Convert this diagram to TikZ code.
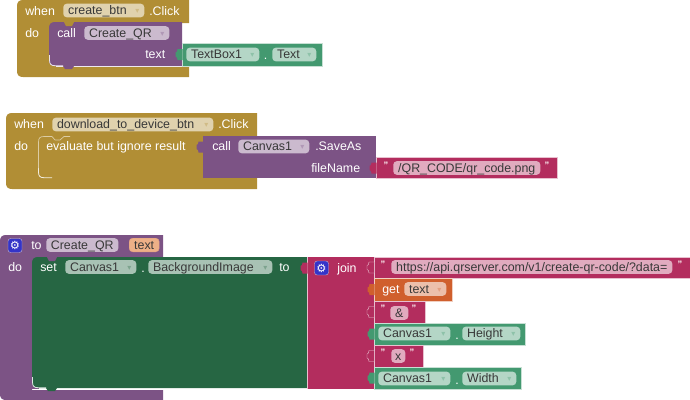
\documentclass[tikz,border=0pt]{standalone}
\usepackage{fontspec}
\setmainfont{Liberation Sans}
\newfontfamily\symfont{DejaVu Sans}
\definecolor{goldblock}{HTML}{B18E35}
\definecolor{goldfield}{HTML}{E0D2AE}
\definecolor{purpleblock}{HTML}{7C5385}
\definecolor{purplefield}{HTML}{CBBACE}
\definecolor{greenblock}{HTML}{439970}
\definecolor{greenfield}{HTML}{B4D6C6}
\definecolor{setblock}{HTML}{266643}
\definecolor{setfield}{HTML}{A8C2B4}
\definecolor{pinkblock}{HTML}{B32D5E}
\definecolor{pinkfield}{HTML}{E1ABBF}
\definecolor{orangeblock}{HTML}{D05F2D}
\definecolor{orangefield}{HTML}{ECBFAB}
\definecolor{textorange}{HTML}{EDB087}
\definecolor{gearblue}{HTML}{3434C8}
\tikzset{
  blocklabel/.style={inner sep=0pt, anchor=west, text=white, font=\fontsize{9.3pt}{11pt}\selectfont,
    text height=7.6pt, text depth=1pt},
  fieldnode/.style={rectangle, rounded corners=2.6pt, inner xsep=3.6pt, inner ysep=0pt, anchor=west,
    text=black!78, font=\fontsize{9.3pt}{11pt}\selectfont, text height=7.6pt, text depth=1pt,
    minimum height=10.2pt},
  quotemark/.style={inner sep=0pt, text=white!90!pink, font=\fontsize{7pt}{7pt}\selectfont\bfseries},
  gearbox/.style={rectangle, rounded corners=2pt, fill=gearblue, draw=purplefield, line width=.3pt,
    minimum size=10.5pt, inner sep=0pt, text=white, font=\symfont\fontsize{8.5pt}{8.5pt}\selectfont}
}
% field without a drop arrow
\newcommand{\plainfield}[6]{
  \node (#1) [fieldnode, fill=#2, minimum width={(#4-#3)*0.75pt}, text width={(#4-#3)*0.75pt-7.2pt}]
    at (#3,#5) {\makebox[\linewidth]{#6}};
}
% field with a drop arrow at its right end
\newcommand{\dropfield}[7]{
  \node (#1) [fieldnode, fill=#2, minimum width={(#4-#3)*0.75pt}, text width={(#4-#3)*0.75pt-7.2pt}]
    at (#3,#5) {\makebox[\linewidth]{#6\hfill\raisebox{.8pt}{\symfont\fontsize{6pt}{6pt}\selectfont\textcolor{#7!60}{▾}}}};
}
% hat block: top band, left arm and lower band
\newcommand{\hatblock}[8]{
  \fill[#1] (#3,#4) -- (#2+6,#4) .. controls (#2+2,#4) and (#2,#4+2) .. (#2,#4+6)
    -- (#2,#8-6) .. controls (#2,#8-2) and (#2+2,#8) .. (#2+6,#8)
    -- (#3,#8) -- (#3,#7) -- (#6,#7) -- (#6,#5) -- (#3,#5) -- cycle;
}
% statement block with round left corners, a notch on top and a nub below
\newcommand{\stackblock}[6]{
  \fill[#6] (#2-1,#4) rectangle (#2+7,#4+7);
  \fill[#6] (#2-1,#5-7) rectangle (#2+7,#5+1);
  \fill[#1] (#3,#4) -- (#2+6,#4) .. controls (#2+2,#4) and (#2,#4+2) .. (#2,#4+6)
    -- (#2,#5-6) .. controls (#2,#5-2) and (#2+2,#5) .. (#2+6,#5) -- (#3,#5) -- cycle;
  \fill[#1] (#2+14,#5) -- (#2+16,#5+3) -- (#2+23,#5+3) -- (#2+25,#5) -- cycle;
  \fill[#6] (#2+15,#4) -- (#2+17,#4+4) -- (#2+23,#4+4) -- (#2+25,#4) -- cycle;
  \draw[white!85!#1, line width=.6pt] (#2+.5,#5-11) -- (#2+.5,#5-6)
    .. controls (#2+.5,#5-2) and (#2+2,#5-.3) .. (#2+6,#5-.3) -- (#2+14,#5-.3);
}
% puzzle tab on the left edge of a value block
\newcommand{\puzzletab}[3]{
  \path[#1] (#2,#3-5.5) -- (#2-5,#3-5.5) -- (#2-5.5,#3-3) -- (#2-7,#3-2)
    -- (#2-7,#3+2) -- (#2-5.5,#3+3) -- (#2-5,#3+5.5) -- (#2,#3+5.5);
}
\begin{document}
\begin{tikzpicture}[x=0.75pt,y=-0.75pt]
  \useasboundingbox (0,0) rectangle (690,400);
  % create button handler
  \hatblock{goldblock}{17}{189}{0}{23}{49}{67}{77}
  \stackblock{purpleblock}{49}{182}{22}{66}{goldblock}
  \fill[greenblock, draw=white!70!greenblock, line width=.4pt] (182,43) rectangle (322,66);
  \puzzletab{fill=greenblock}{182.5}{54.5}
  \node (whenA) [blocklabel] at (25,11) {when};
  \dropfield{createBtn}{goldfield}{63}{144}{10.5}{create\_btn}{goldblock}
  \node (clickA) [blocklabel] at (149,11) {.Click};
  \node (doA) [blocklabel] at (25,33) {do};
  \node (callA) [blocklabel] at (57,33) {call};
  \dropfield{callQR}{purplefield}{84}{169}{33}{Create\_QR}{purpleblock}
  \node (textA) [blocklabel] at (145,54) {text};
  \dropfield{textBox}{greenfield}{186}{259}{54.5}{TextBox1}{greenblock}
  \node (dotA) [blocklabel] at (263.5,55) {.};
  \dropfield{textProp}{greenfield}{272}{316}{54.5}{Text}{greenblock}

  % download button handler
  \hatblock{goldblock}{6}{257}{113}{136}{38}{178}{189}
  \stackblock{goldblock}{38}{203}{136}{178}{goldblock}
  \draw[white!55!goldblock, line width=.5pt] (38.5,168) -- (38.5,142)
    .. controls (38.5,138) and (40,136.5) .. (44,136.5) -- (52,136.5)
    -- (55,140) -- (60,140) -- (64,136.5) -- (70,136.5);
  \fill[purpleblock] (203,136) rectangle (376,178);
  \puzzletab{fill=purpleblock}{203.5}{147}
  \fill[pinkblock, draw=white!70!pinkblock, line width=.4pt] (376,157) rectangle (557,178);
  \puzzletab{fill=pinkblock}{376.5}{168}
  \node (whenB) [blocklabel] at (14,124.5) {when};
  \dropfield{downloadBtn}{goldfield}{52}{213}{124.5}{download\_to\_device\_btn}{goldblock}
  \node (clickB) [blocklabel] at (218,124.5) {.Click};
  \node (doB) [blocklabel] at (14,146) {do};
  \node (evalB) [blocklabel] at (46,146) {evaluate but ignore result};
  \node (callB) [blocklabel] at (212,146) {call};
  \dropfield{canvasSave}{purplefield}{238}{309}{146.5}{Canvas1}{purpleblock}
  \node (saveAs) [blocklabel] at (315,146) {.SaveAs};
  \node (fileName) [blocklabel] at (311,168) {fileName};
  \node (openB) [quotemark] at (386,165) {”};
  \plainfield{pngPath}{pinkfield}{393}{540}{168}{/QR\_CODE/qr\_code.png}
  \node (closeB) [quotemark] at (547,165) {”};

  % procedure definition
  \hatblock{purpleblock}{0}{163}{235}{257}{32}{390}{400}
  \stackblock{setblock}{32}{307}{257}{388}{purpleblock}
  \fill[pinkblock] (307,257) -- (374,257) -- (374,389) -- (307,389) -- cycle;
  \draw[white!70!pinkblock, line width=.4pt] (307,257) -- (307,389);
  \puzzletab{fill=pinkblock}{307.5}{268}
  \node (gearTo) [gearbox] at (15,245.5) {⚙};
  \node (toC) [blocklabel] at (31,245.5) {to};
  \plainfield{procName}{purplefield}{46}{118}{245}{Create\_QR}
  \node (paramC) [fieldnode, fill=textorange, draw=orangeblock!60, line width=.3pt, minimum width=22.5pt,
    text width=15.3pt] at (129,245) {\makebox[\linewidth]{text}};
  \node (doC) [blocklabel] at (8,267) {do};
  \node (setC) [blocklabel] at (40,267) {set};
  \dropfield{canvasSet}{setfield}{65}{136}{267}{Canvas1}{setblock}
  \node (dotC) [blocklabel] at (141,268) {.};
  \dropfield{bgImage}{setfield}{148}{272}{267}{BackgroundImage}{setblock}
  \node (toSet) [blocklabel] at (279,267) {to};
  \node (gearJoin) [gearbox] at (321.5,268) {⚙};
  \node (joinC) [blocklabel] at (337,268) {join};

  % join inputs, top to bottom
  \fill[pinkblock, draw=white!70!pinkblock, line width=.4pt] (374,257) rectangle (690,278);
  \puzzletab{fill=pinkblock, draw=white!70!pinkblock, line width=.3pt}{374}{267.5}
  \node (openU) [quotemark] at (383,264.5) {”};
  \plainfield{urlText}{pinkfield}{391}{672}{267}{https://api.qrserver.com/v1/create-qr-code/?data=}
  \node (closeU) [quotemark] at (680,264.5) {”};

  \fill[orangeblock, draw=white!70!orangeblock, line width=.4pt] (374,278) rectangle (452,301);
  \puzzletab{fill=orangeblock}{374.5}{289.5}
  \node (getC) [blocklabel] at (382,289.5) {get};
  \dropfield{getText}{orangefield}{404}{446}{289}{text}{orangeblock}

  \fill[pinkblock, draw=white!70!pinkblock, line width=.4pt] (374,301) rectangle (425,323);
  \puzzletab{fill=pinkblock, draw=white!70!pinkblock, line width=.3pt}{374}{312}
  \node (openA) [quotemark] at (383,308.5) {”};
  \plainfield{ampText}{pinkfield}{390}{408}{313}{\&}
  \node (closeA) [quotemark] at (414,308.5) {”};

  \fill[greenblock, draw=white!70!greenblock, line width=.4pt] (374,323) rectangle (525,345);
  \puzzletab{fill=greenblock}{374.5}{334}
  \dropfield{canvasH}{greenfield}{378}{450}{333.5}{Canvas1}{greenblock}
  \node (dotH) [blocklabel] at (455,335) {.};
  \dropfield{heightProp}{greenfield}{462}{520}{333.5}{Height}{greenblock}

  \fill[pinkblock, draw=white!70!pinkblock, line width=.4pt] (374,345) rectangle (423,367);
  \puzzletab{fill=pinkblock, draw=white!70!pinkblock, line width=.3pt}{374}{356}
  \node (openX) [quotemark] at (383,352.5) {”};
  \plainfield{xText}{pinkfield}{391}{405}{356}{x}
  \node (closeX) [quotemark] at (412,352.5) {”};

  \fill[greenblock, draw=white!70!greenblock, line width=.4pt] (374,367) rectangle (521,389);
  \puzzletab{fill=greenblock}{374.5}{378}
  \dropfield{canvasW}{greenfield}{378}{450}{378.5}{Canvas1}{greenblock}
  \node (dotW) [blocklabel] at (455,380) {.};
  \dropfield{widthProp}{greenfield}{462}{516}{378.5}{Width}{greenblock}
\end{tikzpicture}
\end{document}
